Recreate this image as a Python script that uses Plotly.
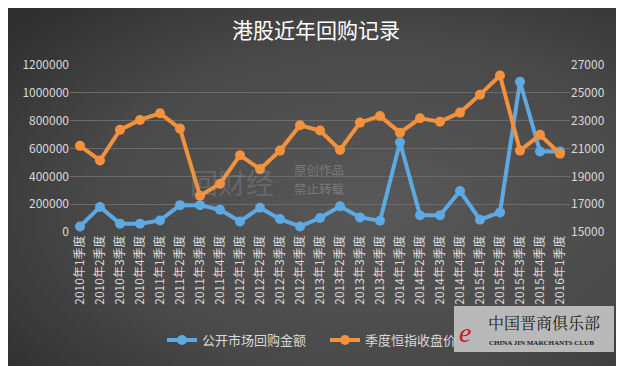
import base64
import plotly.graph_objects as go

categories = [f"{y}年{q}季度" for y in range(2010, 2016) for q in range(1, 5)] + ["2016年1季度"]

buyback = [40000, 180000, 60000, 60000, 83000, 193000, 193000, 160000, 76000, 174000,
           93000, 40000, 100000, 185000, 105000, 81000, 645000, 120000, 120000, 294000,
           88000, 141000, 1080000, 578000, 578000]

hsi_close = [21190, 20140, 22340, 23050, 23530, 22430, 17600, 18470, 20520, 19520,
             20850, 22670, 22290, 20900, 22860, 23340, 22140, 23170, 22930, 23580,
             24870, 26250, 20850, 21980, 20620]

left_ticks = [0, 200000, 400000, 600000, 800000, 1000000, 1200000]
right_ticks = [15000, 17000, 19000, 21000, 23000, 25000, 27000]

BLUE = "#5ea9e2"
ORANGE = "#f4913c"
TXT = "#d9d9d9"

svg = ('<svg xmlns="http://www.w3.org/2000/svg" width="624" height="366">'
       '<defs><radialGradient id="g" cx="0.6" cy="0.55" r="0.75">'
       '<stop offset="0" stop-color="#585858"/><stop offset="0.6" stop-color="#494949"/>'
       '<stop offset="1" stop-color="#303030"/></radialGradient></defs>'
       '<rect width="624" height="366" fill="url(#g)"/></svg>')
bg_src = "data:image/svg+xml;base64," + base64.b64encode(svg.encode()).decode()

fig = go.Figure()
fig.add_trace(go.Scatter(x=categories, y=buyback, name="公开市场回购金额", mode="lines+markers",
                         line=dict(color=BLUE, width=4), marker=dict(size=10, color=BLUE)))
fig.add_trace(go.Scatter(x=categories, y=hsi_close, name="季度恒指收盘价", mode="lines+markers",
                         line=dict(color=ORANGE, width=4), marker=dict(size=10, color=ORANGE),
                         yaxis="y2"))

fig.update_layout(
    width=616, height=358,
    paper_bgcolor="#464646", plot_bgcolor="rgba(0,0,0,0)",
    margin=dict(l=62, r=54, t=57, b=134, autoexpand=False),
    font=dict(family="Noto Sans CJK SC", color=TXT, size=12),
    title=dict(text="港股近年回购记录", x=0.5, xanchor="center", y=0.936, yanchor="middle",
               font=dict(size=21, color="#ffffff"), automargin=False),
    xaxis=dict(type="category", tickangle=-90, showgrid=False, showline=False, automargin=False,
               tickfont=dict(size=12, color=TXT), ticks="", range=[-0.5, 24.5]),
    yaxis=dict(range=[0, 1200000], tickvals=left_ticks, tickformat="d", showgrid=True,
               gridcolor="#6b6b6b", gridwidth=1, zeroline=False, automargin=False,
               tickfont=dict(size=12, color=TXT), ticksuffix="  "),
    yaxis2=dict(range=[15000, 27000], tickvals=right_ticks, tickformat="d", overlaying="y",
                side="right", showgrid=False, zeroline=False, automargin=False,
                tickfont=dict(size=12, color=TXT), tickprefix="   "),
    legend=dict(orientation="h", x=0.184, y=-0.647, xanchor="left", yanchor="middle",
                font=dict(size=13, color=TXT), bgcolor="rgba(0,0,0,0)",
                itemwidth=30, entrywidth=118, entrywidthmode="pixels"),
    showlegend=True,
    images=[dict(source=bg_src, xref="paper", yref="paper", x=-0.14, y=1.36,
                 sizex=1.26, sizey=2.18, sizing="stretch", layer="below",
                 xanchor="left", yanchor="top")],
)

# watermark
fig.add_annotation(text="原创作品", xref="paper", yref="paper", x=0.445, y=0.375,
                   xanchor="left", yanchor="middle", showarrow=False, borderpad=0,
                   font=dict(size=12.5, color="rgba(170,170,170,0.45)"))
fig.add_annotation(text="禁止转载", xref="paper", yref="paper", x=0.445, y=0.26,
                   xanchor="left", yanchor="middle", showarrow=False, borderpad=0,
                   font=dict(size=12.5, color="rgba(170,170,170,0.45)"))
fig.add_annotation(text="回财经", xref="paper", yref="paper", x=0.41, y=0.3,
                   xanchor="right", yanchor="middle", showarrow=False, borderpad=0,
                   font=dict(size=28, color="rgba(170,170,170,0.25)"))

# logo box
fig.add_shape(type="rect", xref="paper", yref="paper", x0=0.768, x1=1.088, y0=-0.719, y1=-0.443,
              fillcolor="#b9b9b9", line=dict(width=0), layer="above")
fig.add_annotation(text="中国晋商俱乐部", xref="paper", yref="paper", x=0.832, y=-0.54,
                   xanchor="left", yanchor="middle", showarrow=False,
                   font=dict(size=16, color="#1a1a1a", family="Noto Serif CJK SC, Noto Sans CJK SC"))
fig.add_annotation(text="<b>CHINA JIN MARCHANTS CLUB</b>", xref="paper", yref="paper", x=0.834, y=-0.665,
                   xanchor="left", yanchor="middle", showarrow=False,
                   font=dict(size=7, color="#1a1a1a", family="Liberation Serif"))
fig.add_annotation(text="<i>e</i>", xref="paper", yref="paper", x=0.773, y=-0.6,
                   xanchor="left", yanchor="middle", showarrow=False,
                   font=dict(size=28, color="#d0181f", family="Liberation Serif"))

fig.write_html("out.html")
